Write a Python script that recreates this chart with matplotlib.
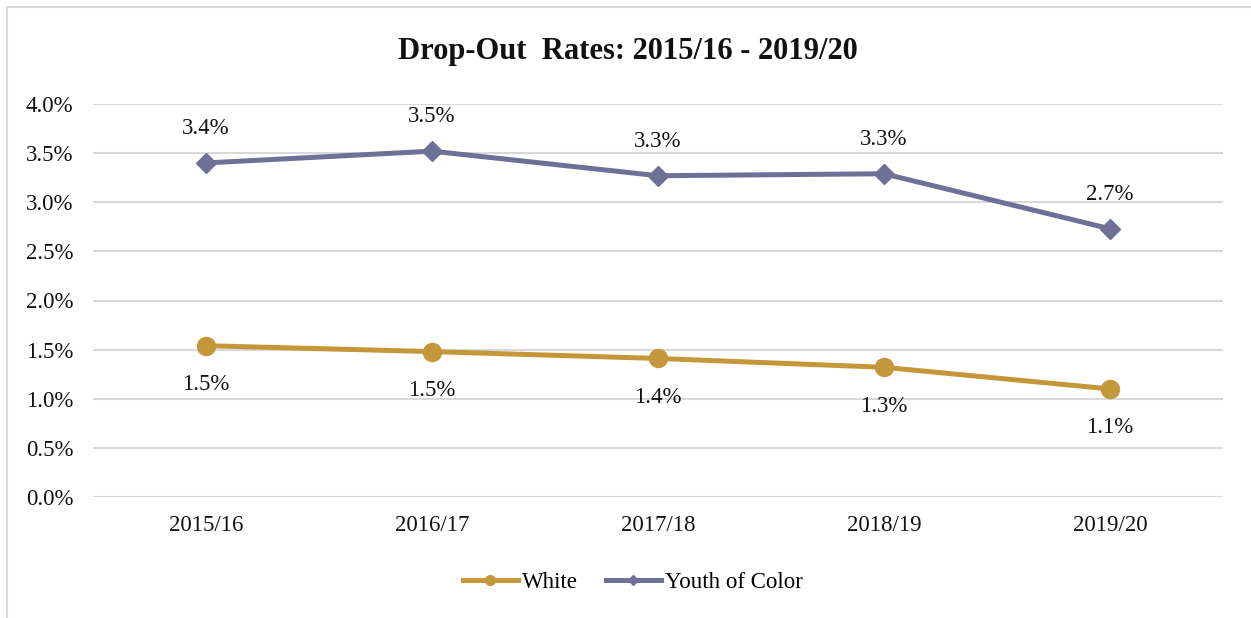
import matplotlib
matplotlib.use("Agg")
import matplotlib.pyplot as plt
from matplotlib.lines import Line2D

categories = ["2015/16", "2016/17", "2017/18", "2018/19", "2019/20"]
white = [1.54, 1.48, 1.41, 1.32, 1.10]
white_labels = ["1.5%", "1.5%", "1.4%", "1.3%", "1.1%"]
youth = [3.40, 3.52, 3.27, 3.29, 2.73]
youth_labels = ["3.4%", "3.5%", "3.3%", "3.3%", "2.7%"]
yticks = [0.0, 0.5, 1.0, 1.5, 2.0, 2.5, 3.0, 3.5, 4.0]
ytick_labels = ["0.0%", "0.5%", "1.0%", "1.5%", "2.0%", "2.5%", "3.0%", "3.5%", "4.0%"]

GOLD = "#C4983A"
PURPLE = "#6E7098"
FONT = ["Liberation Serif", "DejaVu Serif"]
plt.rcParams["font.family"] = FONT

fig = plt.figure(figsize=(12.51, 6.18), dpi=100)
ax = fig.add_axes([93/1251, 1-497/618, (1223-93)/1251, (497-104)/618])

x = list(range(len(categories)))
ax.plot(x, white, color=GOLD, lw=3.6, marker="o", ms=13, zorder=3)
ax.plot(x, youth, color=PURPLE, lw=3.6, marker="D", ms=10, zorder=3)

for xi, v, lab in zip(x, white, white_labels):
    ax.annotate(lab, (xi, v), xytext=(0, -28), textcoords="offset points",
                ha="center", va="center", fontsize=16.5, color="#111111")
for xi, v, lab in zip(x, youth, youth_labels):
    ax.annotate(lab, (xi, v), xytext=(0, 25), textcoords="offset points",
                ha="center", va="center", fontsize=16.5, color="#111111")

ax.set_xlim(-0.5, len(categories) - 0.5)
ax.set_ylim(0, 4.0)
ax.set_yticks(yticks)
ax.set_yticklabels(ytick_labels, fontsize=16.5, color="#111111")
ax.set_xticks(x)
ax.set_xticklabels(categories, fontsize=16.5, color="#111111")
ax.tick_params(axis="x", length=0, pad=13)
ax.tick_params(axis="y", length=0, pad=14)
ax.yaxis.grid(True, color="#d9d9d9", lw=1.5)
ax.set_axisbelow(True)
for s in ax.spines.values():
    s.set_visible(False)

fig.text(628/1251, 1-51/618, "Drop-Out  Rates: 2015/16 - 2019/20", ha="center", va="center",
         fontsize=22, fontweight="bold", color="#111111")

handles = [Line2D([], [], color=GOLD, lw=3.6, marker="o", ms=7),
           Line2D([], [], color=PURPLE, lw=3.6, marker="D", ms=5)]
fig.legend(handles, ["White", "Youth of Color"], loc="center", bbox_to_anchor=(633/1251, 1-582/618),
           ncol=2, frameon=False, fontsize=16.5, handlelength=2.4, handletextpad=0.2, columnspacing=1.2)

# outer border (left and top)
fig.add_artist(Line2D([7/1251, 7/1251], [0, 1-7/618], color="#d9d9d9", lw=1.5, transform=fig.transFigure))
fig.add_artist(Line2D([7/1251, 1], [1-7/618, 1-7/618], color="#d9d9d9", lw=1.5, transform=fig.transFigure))

fig.savefig("out.png", dpi=100, facecolor="white")
